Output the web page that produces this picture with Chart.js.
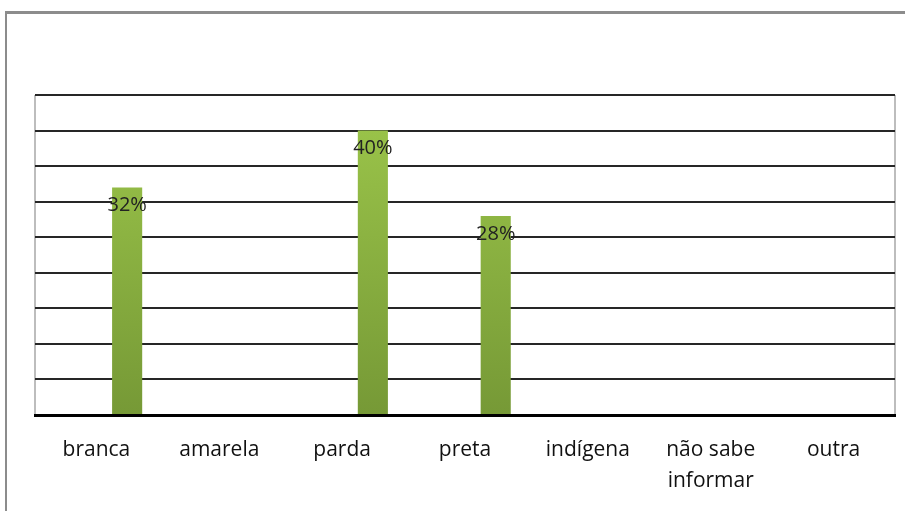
<!DOCTYPE html>
<html>
<head>
<meta charset="utf-8">
<script src="https://cdn.jsdelivr.net/npm/chart.js@4/dist/chart.umd.min.js"></script>
<style>
    body { margin: 0; background: #fff; overflow: hidden; }
    #quadro { position: absolute; left: 0; top: 0; width: 905px; height: 511px; }
    #moldura { position: absolute; left: 5px; top: 11px; width: 900px; height: 500px; border-left: 2px solid #8c8c8c; border-top: 3px solid #8c8c8c; }
</style>
</head>
<body>
<div id="moldura"></div>
<div id="quadro"><canvas id="graficoCor" width="905" height="511"></canvas></div>
<script>
const categorias = ['branca', 'amarela', 'parda', 'preta', 'indígena', ['não sabe', 'informar'], 'outra'];
const porcentagens = [32, null, 40, 28, null, null, null];
// serie vazia do original (ocupa o primeiro lugar do grupo)
const serieVazia = [null, null, null, null, null, null, null];
const escalaMax = 45;
const escalaPasso = 5;

// rótulos dentro da barra, perto do topo
const rotulosBarras = {
    id: 'rotulosBarras',
    afterDatasetsDraw(chart) {
        const ctx = chart.ctx;
        const meta = chart.getDatasetMeta(1);
        ctx.save();
        ctx.font = '20px "Open Sans"';
        ctx.fillStyle = '#222';
        ctx.textAlign = 'center';
        ctx.textBaseline = 'middle';
        meta.data.forEach((barra, i) => {
            const v = porcentagens[i];
            if (v == null) return;
            ctx.fillText(v + '%', barra.x, barra.y + 18);
        });
        ctx.restore();
    }
};

// bordas laterais da area do grafico
const bordasArea = {
    id: 'bordasArea',
    beforeDraw(chart) {
        const a = chart.chartArea;
        const ctx = chart.ctx;
        ctx.save();
        ctx.strokeStyle = '#bdbdbd';
        ctx.lineWidth = 2;
        ctx.beginPath();
        ctx.moveTo(a.left, a.top);
        ctx.lineTo(a.left, a.bottom);
        ctx.moveTo(a.right, a.top);
        ctx.lineTo(a.right, a.bottom);
        ctx.stroke();
        ctx.restore();
    }
};

function corBarra(context) {
    const area = context.chart.chartArea;
    if (!area) return '#8db543';
    const g = context.chart.ctx.createLinearGradient(0, area.top, 0, area.bottom);
    g.addColorStop(0, '#9dc74b');
    g.addColorStop(1, '#769936');
    return g;
}

new Chart(document.getElementById('graficoCor'), {
    type: 'bar',
    data: {
        labels: categorias,
        datasets: [{
            data: serieVazia,
            backgroundColor: '#4f81bd',
            barPercentage: 0.49,
            categoryPercentage: 1.0
        }, {
            data: porcentagens,
            backgroundColor: corBarra,
            borderWidth: 0,
            barPercentage: 0.49,
            categoryPercentage: 1.0
        }]
    },
    options: {
        responsive: false,
        animation: false,
        layout: { padding: { left: 35, top: 95, right: 10, bottom: 3 } },
        plugins: { legend: { display: false }, tooltip: { enabled: false } },
        scales: {
            x: {
                grid: { display: false },
                border: { display: true, color: '#000', width: 3 },
                ticks: {
                    color: '#111',
                    font: { family: 'Open Sans', size: 21, lineHeight: 1.5 },
                    padding: 11,
                    maxRotation: 0,
                    autoSkip: false
                }
            },
            y: {
                min: 0,
                max: escalaMax,
                ticks: { display: false, stepSize: escalaPasso },
                border: { display: false },
                grid: { color: '#262626', lineWidth: 2, drawTicks: false }
            }
        }
    },
    plugins: [bordasArea, rotulosBarras]
});
</script>
</body>
</html>
